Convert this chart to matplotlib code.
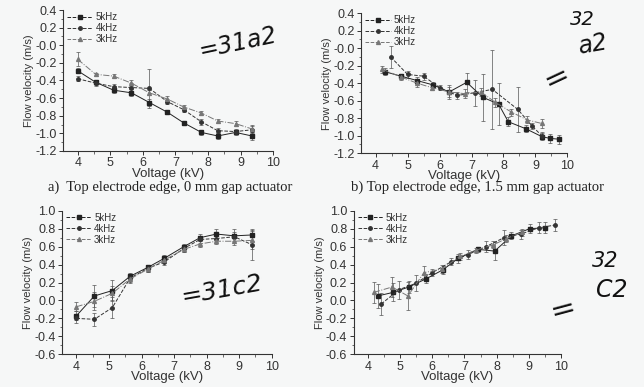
import numpy as np
import matplotlib
matplotlib.use("Agg")
import matplotlib.pyplot as plt
from matplotlib.ticker import MultipleLocator
from matplotlib.lines import Line2D

# Datos leidos de la figura
# a) 0 mm gap, borde superior (velocidad negativa)
xa = [4.0, 4.55, 5.1, 5.65, 6.2, 6.75, 7.25, 7.8, 8.3, 8.85, 9.35]
ya_5 = [-0.29, -0.42, -0.51, -0.54, -0.65, -0.76, -0.88, -0.99, -1.03, -0.99, -1.03]
ya_4 = [-0.38, -0.43, -0.47, -0.48, -0.49, -0.64, -0.73, -0.87, -0.97, -0.98, -0.96]
ya_3 = [-0.16, -0.33, -0.35, -0.43, -0.54, -0.61, -0.70, -0.77, -0.86, -0.89, -0.95]
ea_5 = [0.03, 0.03, 0.03, 0.04, 0.04, 0.02, 0.02, 0.03, 0.03, 0.03, 0.05]
ea_4 = [0.03, 0.03, 0.03, 0.05, 0.22, 0.03, 0.03, 0.03, 0.03, 0.03, 0.04]
ea_3 = [0.08, 0.02, 0.02, 0.03, 0.03, 0.03, 0.02, 0.02, 0.02, 0.03, 0.04]

# b) 1.5 mm gap, borde superior
xb_5 = [4.3, 4.8, 5.3, 5.8, 6.3, 6.85, 7.35, 7.85, 8.15, 8.7, 9.2, 9.45, 9.75]
yb_5 = [-0.27, -0.32, -0.37, -0.42, -0.50, -0.39, -0.56, -0.64, -0.84, -0.92, -1.01, -1.03, -1.04]
eb_5 = [0.04, 0.03, 0.04, 0.03, 0.06, 0.11, 0.27, 0.24, 0.05, 0.04, 0.04, 0.05, 0.05]
xb_4 = [4.47, 5.0, 5.5, 6.0, 6.55, 7.1, 7.65, 8.45, 8.9, 9.2]
yb_4 = [-0.10, -0.30, -0.32, -0.45, -0.54, -0.51, -0.47, -0.70, -0.89, -1.00]
eb_4 = [0.13, 0.04, 0.04, 0.03, 0.04, 0.15, 0.45, 0.26, 0.03, 0.04]
xb_3 = [4.2, 4.8, 5.3, 5.75, 6.3, 6.8, 7.3, 7.75, 8.25, 8.75, 9.2]
yb_3 = [-0.24, -0.33, -0.40, -0.45, -0.50, -0.52, -0.50, -0.62, -0.73, -0.82, -0.86]
eb_3 = [0.04, 0.03, 0.04, 0.03, 0.08, 0.05, 0.05, 0.05, 0.04, 0.04, 0.05]

# c) 0 mm gap (velocidad positiva)
xc = [4.0, 4.55, 5.1, 5.65, 6.2, 6.7, 7.3, 7.8, 8.3, 8.85, 9.4]
yc_5 = [-0.17, 0.05, 0.11, 0.27, 0.37, 0.47, 0.60, 0.70, 0.74, 0.72, 0.73]
yc_4 = [-0.20, -0.21, -0.08, 0.25, 0.36, 0.43, 0.58, 0.68, 0.69, 0.71, 0.62]
yc_3 = [-0.07, -0.01, 0.08, 0.24, 0.35, 0.45, 0.57, 0.63, 0.66, 0.66, 0.67]
ec_5 = [0.05, 0.12, 0.12, 0.04, 0.03, 0.04, 0.03, 0.04, 0.06, 0.08, 0.07]
ec_4 = [0.05, 0.07, 0.12, 0.05, 0.04, 0.04, 0.04, 0.04, 0.05, 0.05, 0.17]
ec_3 = [0.05, 0.10, 0.08, 0.03, 0.03, 0.03, 0.03, 0.03, 0.03, 0.04, 0.10]

# d) 1.5 mm gap
xd_5 = [4.3, 4.78, 5.27, 5.8, 6.32, 6.81, 7.41, 7.94, 8.46, 9.03, 9.52]
yd_5 = [0.05, 0.09, 0.15, 0.24, 0.34, 0.47, 0.57, 0.55, 0.72, 0.80, 0.81]
ed_5 = [0.13, 0.10, 0.07, 0.05, 0.04, 0.05, 0.03, 0.10, 0.04, 0.05, 0.06]
xd_4 = [4.41, 4.96, 5.48, 6.0, 6.58, 7.1, 7.67, 8.23, 8.75, 9.31, 9.81]
yd_4 = [-0.04, 0.12, 0.19, 0.31, 0.43, 0.51, 0.60, 0.70, 0.74, 0.81, 0.84]
ed_4 = [0.12, 0.10, 0.09, 0.04, 0.04, 0.05, 0.06, 0.08, 0.05, 0.06, 0.07]
xd_3 = [4.18, 4.75, 5.24, 5.74, 6.3, 6.85, 7.35, 7.9, 8.3, 8.8]
yd_3 = [0.09, 0.15, 0.05, 0.31, 0.35, 0.49, 0.56, 0.62, 0.69, 0.76]
ed_3 = [0.12, 0.11, 0.16, 0.07, 0.04, 0.04, 0.03, 0.04, 0.04, 0.04]

etiquetas = ["5kHz", "4kHz", "3kHz"]
captions = ["a)  Top electrode edge, 0 mm gap actuator",
            "b) Top electrode edge, 1.5 mm gap actuator"]
notas = ["=31a2", "=31c2"]

fondo = "#f6f7f7"
plt.rcParams["font.family"] = ["Liberation Sans", "DejaVu Sans"]

fig = plt.figure(figsize=(6.44, 3.87), dpi=100, facecolor=fondo)

estilos = [
    dict(color="#222222", ls="-", marker="s", ms=2.5),
    dict(color="#333333", ls="--", marker="o", ms=2.5),
    dict(color="#777777", ls="-.", marker="^", ms=2.8),
]


def panel(pos, series, ylim, yticks):
    ax = fig.add_axes(pos)
    ax.set_facecolor(fondo)
    for (x, y, e), st in zip(series, estilos):
        ax.errorbar(x, y, yerr=e, color=st["color"], ls=st["ls"], lw=0.7,
                    marker=st["marker"], ms=st["ms"], mfc=st["color"],
                    mec=st["color"], ecolor="#555555", elinewidth=0.5,
                    capsize=1.5, capthick=0.5)
    ax.set_xlim(3.55, 10)
    ax.set_ylim(*ylim)
    ax.set_xticks([4, 5, 6, 7, 8, 9, 10])
    ax.set_yticks(yticks)
    ax.yaxis.set_major_formatter(plt.FormatStrFormatter("%.1f"))
    ax.xaxis.set_minor_locator(MultipleLocator(0.5))
    ax.yaxis.set_minor_locator(MultipleLocator(0.1))
    for s in ["top", "right"]:
        ax.spines[s].set_visible(False)
    for s in ["left", "bottom"]:
        ax.spines[s].set_linewidth(0.8)
        ax.spines[s].set_color("#333333")
    ax.tick_params(which="major", length=3, width=0.7, labelsize=9,
                   colors="#333333", pad=1.5)
    ax.tick_params(which="minor", length=1.8, width=0.5, colors="#333333")
    ax.set_xlabel("Voltage (kV)", fontsize=9.5, color="#333333", labelpad=-1)
    ax.set_ylabel("Flow velocity (m/s)", fontsize=8, color="#333333", labelpad=1)
    handles = [Line2D([], [], color=st["color"], ls="--", lw=0.7,
                      marker=st["marker"], ms=st["ms"]) for st in estilos]
    leg = ax.legend(handles, etiquetas, loc="upper left", fontsize=7,
                    frameon=False, handlelength=2.6, handletextpad=0.3,
                    labelspacing=0.1, borderaxespad=0.1, borderpad=0.1,
                    bbox_to_anchor=(0.01, 1.0))
    for t in leg.get_texts():
        t.set_color("#333333")
    return ax


ax_a = panel([0.098, 0.610, 0.326, 0.364],
             [(xa, ya_5, ea_5), (xa, ya_4, ea_4), (xa, ya_3, ea_3)],
             (-1.2, 0.4), np.arange(-1.2, 0.41, 0.2))
ax_b = panel([0.561, 0.604, 0.320, 0.362],
             [(xb_5, yb_5, eb_5), (xb_4, yb_4, eb_4), (xb_3, yb_3, eb_3)],
             (-1.2, 0.4), np.arange(-1.2, 0.41, 0.2))
ax_c = panel([0.096, 0.0845, 0.326, 0.371],
             [(xc, yc_5, ec_5), (xc, yc_4, ec_4), (xc, yc_3, ec_3)],
             (-0.6, 1.0), np.arange(-0.6, 1.01, 0.2))
ax_d = panel([0.549, 0.0845, 0.322, 0.371],
             [(xd_5, yd_5, ed_5), (xd_4, yd_4, ed_4), (xd_3, yd_3, ed_3)],
             (-0.6, 1.0), np.arange(-0.6, 1.01, 0.2))

# Leyendas de los paneles
fig.text(0.265, 0.515, captions[0], fontsize=10.5, family="Liberation Serif",
         ha="center", va="center", color="#222222")
fig.text(0.741, 0.515, captions[1], fontsize=10.5, family="Liberation Serif",
         ha="center", va="center", color="#222222")

# Anotaciones a mano
mano = dict(color="#111111", fontstyle="italic", family="DejaVu Sans")
fig.text(0.37, 0.89, notas[0], fontsize=17, rotation=12, ha="center", va="center", **mano)
fig.text(0.345, 0.25, notas[1], fontsize=18, rotation=10, ha="center", va="center", **mano)
fig.text(0.905, 0.95, "32", fontsize=14, ha="center", va="center", **mano)
fig.text(0.92, 0.885, "a2", fontsize=17, rotation=10, ha="center", va="center", **mano)
fig.text(0.865, 0.80, "=", fontsize=22, rotation=25, ha="center", va="center", **mano)
fig.text(0.94, 0.325, "32", fontsize=15, ha="center", va="center", **mano)
fig.text(0.95, 0.25, "C2", fontsize=17, ha="center", va="center", **mano)
fig.text(0.875, 0.20, "=", fontsize=22, rotation=15, ha="center", va="center", **mano)

fig.savefig("out.png", dpi=100, facecolor=fondo)
